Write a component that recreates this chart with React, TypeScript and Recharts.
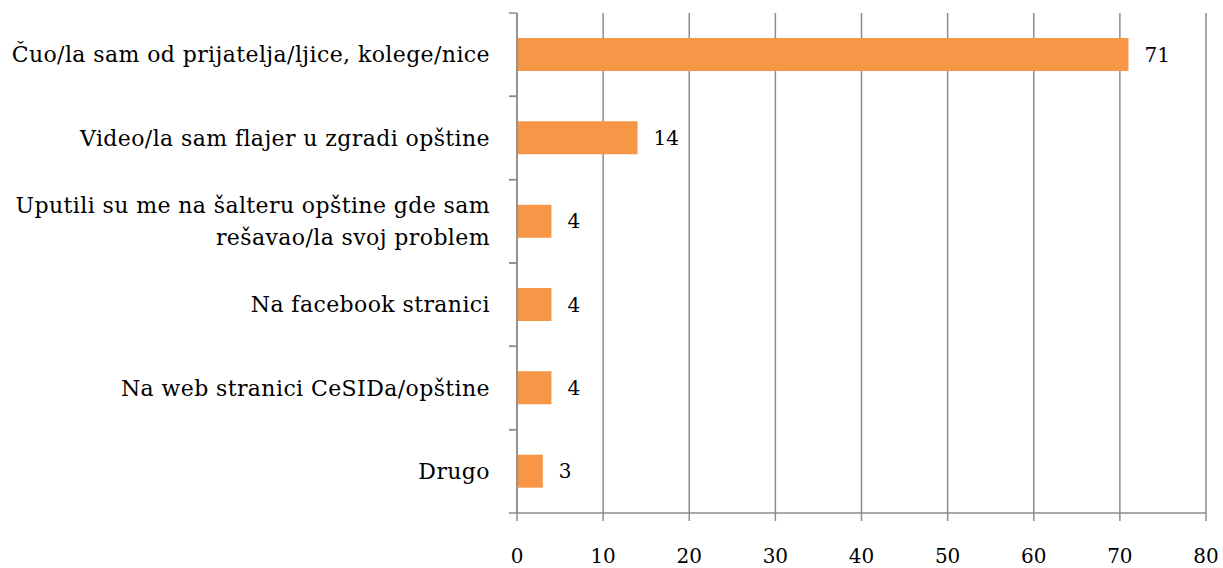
import { BarChart, Bar, XAxis, YAxis, CartesianGrid, LabelList } from 'recharts';

const categories = [
  'Čuo/la sam od prijatelja/ljice, kolege/nice',
  'Video/la sam flajer u zgradi opštine',
  'Uputili su me na šalteru opštine gde sam rešavao/la svoj problem',
  'Na facebook stranici',
  'Na web stranici CeSIDa/opštine',
  'Drugo',
];
const values = [71, 14, 4, 4, 4, 3];
const xTicks = [0, 10, 20, 30, 40, 50, 60, 70, 80];

const data = categories.map((name, i) => ({ name, value: values[i] }));

const FONT = '"DejaVu Serif", "Liberation Serif", serif';
const GRAY = '#8c8c8c';
const TICK_LEN = 8;
const TICK_GAP = 19;
const PLOT_H = 500;

function wrap(text: string, max = 44) {
  const words = text.split(' ');
  const lines: string[] = [];
  let cur = '';
  for (const w of words) {
    const next = cur ? cur + ' ' + w : w;
    if (next.length > max && cur) {
      lines.push(cur);
      cur = w;
    } else cur = next;
  }
  if (cur) lines.push(cur);
  return lines;
}

const CategoryTick = (props: any) => {
  const { x, y, payload } = props;
  const half = payload?.offset || PLOT_H / categories.length / 2;
  const lines = wrap(String(payload.value));
  const lh = 32;
  const x0 = x + TICK_GAP;
  return (
    <g>
      <line x1={x0} x2={x0 + TICK_LEN} y1={y - half} y2={y - half} stroke={GRAY} strokeWidth={1.5} />
      <line x1={x0} x2={x0 + TICK_LEN} y1={y + half} y2={y + half} stroke={GRAY} strokeWidth={1.5} />
      <text x={x} y={y} textAnchor="end" fontSize={22} letterSpacing={0.4} fontFamily={FONT} fill="#000">
        {lines.map((l, i) => (
          <tspan key={i} x={x} y={y + (i - (lines.length - 1) / 2) * lh} dy="0.35em">{l}</tspan>
        ))}
      </text>
    </g>
  );
};

export default function App() {
  return (
    <div style={{ position: 'absolute', left: 0, top: 0, background: '#fff' }}>
      <BarChart
        width={1223}
        height={568}
        data={data}
        layout="vertical"
        margin={{ top: 13, right: 17, left: 0, bottom: 0 }}
        barCategoryGap="30%"
      >
        <CartesianGrid horizontal={false} stroke={GRAY} strokeWidth={1.5} />
        <XAxis
          type="number"
          domain={[0, 80]}
          ticks={xTicks}
          interval={0}
          height={55}
          tickSize={TICK_LEN}
          tickMargin={28}
          axisLine={{ stroke: GRAY, strokeWidth: 1.5 }}
          tickLine={{ stroke: GRAY, strokeWidth: 1.5 }}
          tick={{ fontSize: 20, fontFamily: FONT, fill: '#000' }}
        />
        <YAxis
          type="category"
          dataKey="name"
          width={517}
          interval={0}
          tickSize={TICK_LEN}
          tickMargin={TICK_GAP}
          axisLine={{ stroke: GRAY, strokeWidth: 1.5 }}
          tickLine={false}
          tick={<CategoryTick />}
        />
        <Bar dataKey="value" fill="#F79646" isAnimationActive={false}>
          <LabelList dataKey="value" position="right" offset={16} fontSize={20} fontFamily={FONT} fill="#000" />
        </Bar>
      </BarChart>
    </div>
  );
}
